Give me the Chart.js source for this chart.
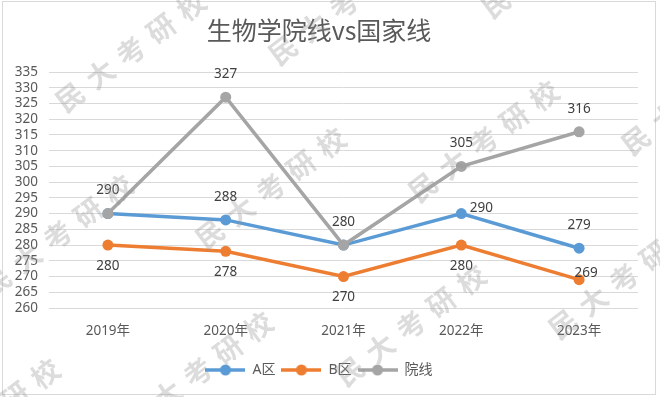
<!DOCTYPE html>
<html>
<head>
<meta charset="utf-8">
<script src="https://cdn.jsdelivr.net/npm/chart.js@4/dist/chart.umd.min.js"></script>
<style>
  html, body { margin: 0; padding: 0; background: #fff; }
  #wrap { width: 660px; height: 397px; }
</style>
</head>
<body>
<div id="wrap"><canvas id="line-chart" width="660" height="397"></canvas></div>
<script>
// data
const years = ["2019年", "2020年", "2021年", "2022年", "2023年"];
const zoneA = [290, 288, 280, 290, 279];
const zoneB = [280, 278, 270, 280, 269];
const schoolLine = [290, 327, 280, 305, 316];
const yTicks = [260, 265, 270, 275, 280, 285, 290, 295, 300, 305, 310, 315, 320, 325, 330, 335];

// where each value label sits (null = not shown)
const aLabelPos = [null, "top", null, "right", "top"];
const bLabelPos = ["bottom", "bottom", "bottom", "bottom", "upRight"];
const schoolLabelPos = ["top", "top", "top", "top", "top"];

const blue = "#5b9bd5", orange = "#ed7d31", grey = "#a5a5a5";
const FONT = "'Noto Sans', 'Noto Sans CJK SC', sans-serif";

// legend symbol: short line with a dot
function legendMark(color) {
    const c = document.createElement("canvas");
    c.width = 40; c.height = 12;
    const g = c.getContext("2d");
    g.strokeStyle = color; g.lineWidth = 3.5;
    g.beginPath(); g.moveTo(0, 6); g.lineTo(40, 6); g.stroke();
    g.fillStyle = color;
    g.beginPath(); g.arc(20, 6, 5.5, 0, Math.PI * 2); g.fill();
    return c;
}
const marks = [legendMark(blue), legendMark(orange), legendMark(grey)];

const offsets = {
    top: [0, -23],
    bottom: [0, 21],
    right: [20, -5],
    upRight: [7, -7]
};

const valueLabels = {
    id: "valueLabels",
    afterDatasetsDraw(chart) {
        const ctx = chart.ctx;
        ctx.save();
        ctx.font = "13.5px " + FONT;
        ctx.fillStyle = "#404040";
        ctx.textAlign = "center";
        ctx.textBaseline = "middle";
        chart.data.datasets.forEach(function (ds, i) {
            const meta = chart.getDatasetMeta(i);
            ds.labelPos.forEach(function (p, j) {
                if (!p) return;
                const pt = meta.data[j];
                const o = offsets[p];
                ctx.fillText(String(ds.data[j]), pt.x + o[0], pt.y + o[1]);
            });
        });
        ctx.restore();
    }
};

const frame = {
    id: "frame",
    beforeDraw(chart) {
        const ctx = chart.ctx;
        ctx.save();
        ctx.fillStyle = "#fff";
        ctx.fillRect(0, 0, chart.width, chart.height);
        ctx.strokeStyle = "#d9d9d9";
        ctx.lineWidth = 1;
        ctx.strokeRect(2.5, 1.5, 653, 393);
        ctx.restore();
    },
    afterDraw(chart) {
        // faint diagonal watermark
        const ctx = chart.ctx;
        const word = "民大考研校";
        const ang = -37 * Math.PI / 180;
        ctx.save();
        ctx.font = "bold 28px 'Noto Sans CJK SC', sans-serif";
        ctx.fillStyle = "rgba(150,150,150,0.33)";
        ctx.textAlign = "center";
        ctx.textBaseline = "middle";
        for (let i = -3; i <= 4; i++) {
            for (let j = -3; j <= 4; j++) {
                const x0 = 70 + i * 213 + j * 140;
                const y0 = 97 - i * 47 + j * 137;
                for (let k = 0; k < word.length; k++) {
                    const x = x0 + k * 38 * Math.cos(ang);
                    const y = y0 + k * 38 * Math.sin(ang);
                    if (x < -30 || x > 690 || y < -30 || y > 430) continue;
                    ctx.save();
                    ctx.translate(x, y);
                    ctx.rotate(ang);
                    ctx.fillText(word[k], 0, 0);
                    ctx.restore();
                }
            }
        }
        ctx.restore();
    }
};

new Chart(document.getElementById("line-chart"), {
    type: "line",
    data: {
        labels: years,
        datasets: [{
            label: "A区",
            data: zoneA,
            labelPos: aLabelPos,
            borderColor: blue,
            backgroundColor: blue,
            order: 1
        }, {
            label: "B区",
            data: zoneB,
            labelPos: bLabelPos,
            borderColor: orange,
            backgroundColor: orange,
            order: 2
        }, {
            label: "院线",
            data: schoolLine,
            labelPos: schoolLabelPos,
            borderColor: grey,
            backgroundColor: grey,
            order: 0
        }]
    },
    options: {
        responsive: false,
        animation: false,
        devicePixelRatio: 1,
        elements: {
            line: { borderWidth: 3.5, tension: 0, fill: false },
            point: { pointStyle: "circle", radius: 5.5, borderWidth: 0, hoverRadius: 5.5 }
        },
        layout: { padding: { left: 0, right: 22, top: 0, bottom: 10 } },
        scales: {
            x: {
                offset: true,
                grid: { display: false, drawTicks: false },
                border: { display: false },
                ticks: { color: "#595959", font: { family: FONT, size: 13.5 }, padding: 15 },
                afterFit(scale) { scale.height = 49; }
            },
            y: {
                min: 260,
                max: 335,
                afterBuildTicks(scale) { scale.ticks = yTicks.map(v => ({ value: v })); },
                grid: { color: "#d9d9d9", lineWidth: 1, drawTicks: false },
                border: { display: false },
                ticks: { color: "#595959", font: { family: FONT, size: 13.5 }, padding: 11, autoSkip: false },
                afterFit(scale) { scale.width = 49; }
            }
        },
        plugins: {
            title: {
                display: true,
                text: "生物学院线vs国家线",
                color: "#595959",
                font: { family: "'Noto Sans CJK SC', sans-serif", size: 25, weight: "normal" },
                padding: { top: 15, bottom: 27 }
            },
            legend: {
                position: "bottom",
                labels: {
                    usePointStyle: true,
                    pointStyleWidth: 40,
                    color: "#595959",
                    font: { family: FONT, size: 14 },
                    padding: 6,
                    sort: (a, b) => a.datasetIndex - b.datasetIndex,
                    generateLabels(chart) {
                        const items = Chart.defaults.plugins.legend.labels.generateLabels(chart);
                        items.forEach(it => { it.pointStyle = marks[it.datasetIndex]; });
                        return items;
                    }
                }
            },
            tooltip: { enabled: false }
        }
    },
    plugins: [frame, valueLabels]
});
</script>
</body>
</html>
